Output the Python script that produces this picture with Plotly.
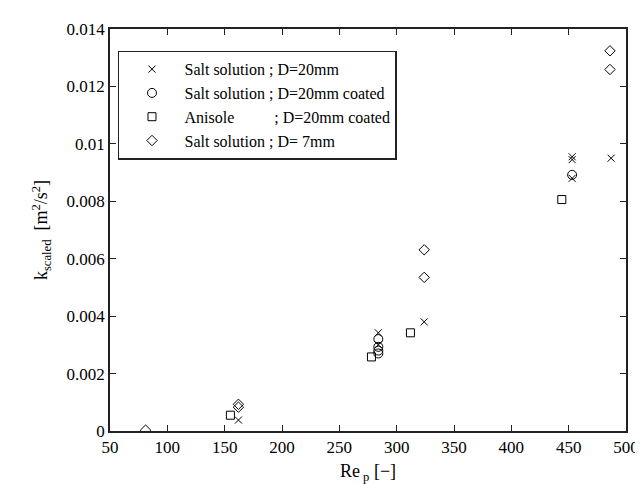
import plotly.graph_objects as go

# Data
salt20_x = [162, 284, 284, 324, 453, 453, 453, 487]
salt20_y = [0.00038, 0.00342, 0.00300, 0.00380, 0.00955, 0.00945, 0.00880, 0.00950]

salt20c_x = [284, 284, 284, 284, 453]
salt20c_y = [0.00320, 0.00293, 0.00280, 0.00270, 0.00892]

anis_x = [155, 278, 312, 444]
anis_y = [0.00055, 0.00258, 0.00342, 0.00806]

salt7_x = [81, 162, 162, 324, 324, 486, 486]
salt7_y = [0.00003, 0.00093, 0.00083, 0.00631, 0.00535, 0.01324, 0.01259]

NB = "\u00a0"
names = ["Salt solution ; D=20mm",
         "Salt solution ; D=20mm coated",
         "Anisole" + NB * 10 + "; D=20mm coated",
         "Salt solution ; D= 7mm"]

x_ticks = [50, 100, 150, 200, 250, 300, 350, 400, 450, 500]
y_ticks = [0, 0.002, 0.004, 0.006, 0.008, 0.01, 0.012, 0.014]
y_ticktext = ["0", "0.002", "0.004", "0.006", "0.008", "0.01", "0.012", "0.014"]

FONT = "Liberation Serif, Times New Roman, serif"

fig = go.Figure()
series = [
    (salt20_x, salt20_y, "x-thin-open", 7, names[0]),
    (salt20c_x, salt20c_y, "circle-open", 9, names[1]),
    (anis_x, anis_y, "square-open", 8, names[2]),
    (salt7_x, salt7_y, "diamond-open", 8, names[3]),
]
for xs, ys, sym, sz, nm in series:
    fig.add_trace(go.Scatter(
        x=xs, y=ys, mode="markers", name=nm,
        marker=dict(symbol=sym, size=sz, color="black",
                    line=dict(color="black", width=1)),
    ))

axis_common = dict(
    showgrid=False, zeroline=False, showline=True, linecolor="#222",
    linewidth=1.5, mirror="ticks", ticks="inside", ticklen=6,
    tickcolor="#222", tickfont=dict(family=FONT, size=17, color="black"),
)

fig.update_layout(
    width=643, height=484,
    margin=dict(l=102, r=25, t=15, b=61),
    paper_bgcolor="white", plot_bgcolor="white",
    font=dict(family=FONT, size=16, color="black"),
    showlegend=True,
    legend=dict(
        x=0.0155, y=0.946, xanchor="left", yanchor="top",
        bgcolor="white", bordercolor="#222", borderwidth=1.5,
        font=dict(family=FONT, size=16, color="black"),
        itemwidth=55, tracegroupgap=0,
    ),
    xaxis=dict(range=[50, 500], tickvals=x_ticks,
               title=dict(text="Re<sub> p</sub> [−]", standoff=8,
                          font=dict(family=FONT, size=18)),
               **axis_common),
    yaxis=dict(range=[0, 0.014], tickvals=y_ticks, ticktext=y_ticktext,
               title=dict(text="k<sub>scaled</sub>  [m<sup>2</sup>/s<sup>2</sup>]",
                          standoff=14, font=dict(family=FONT, size=18)),
               **axis_common),
)

fig.write_html("out.html")
